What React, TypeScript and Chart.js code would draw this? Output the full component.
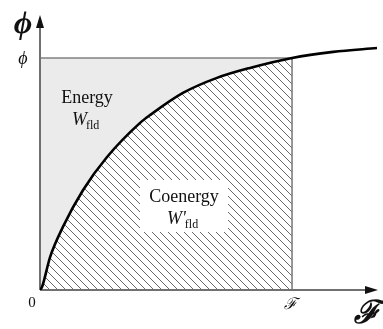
import React, { useEffect, useRef } from 'react';
import { Chart, registerables } from 'chart.js';

Chart.register(...registerables);

// Magnetization curve phi(F), normalised so the operating point is (1, 1)
const curveF = [0, 0.008, 0.04, 0.091, 0.171, 0.266, 0.397, 0.437, 0.567, 0.702, 0.833, 1.0, 1.163, 1.337];
const curvePhi = [0, 0.013, 0.142, 0.272, 0.431, 0.573, 0.72, 0.754, 0.849, 0.914, 0.957, 1.0, 1.026, 1.043];
const operatingF = 1;
const operatingPhi = 1;
const xMax = 1.341;
const yMax = 1.185;

const xTickLabel = 'ℱ';
const yTickLabel = 'ϕ';
const xAxisTitle = 'ℱ';
const yAxisTitle = 'ϕ';
const originLabel = '0';
const energyLabel = 'Energy';
const coenergyLabel = 'Coenergy';

function makeHatch(): CanvasPattern | string {
  const c = document.createElement('canvas');
  c.width = 8;
  c.height = 8;
  const g = c.getContext('2d');
  if (!g) return '#fff';
  g.fillStyle = '#ffffff';
  g.fillRect(0, 0, 8, 8);
  g.strokeStyle = '#6a6a6a';
  g.lineWidth = 1;
  g.beginPath();
  g.moveTo(-2, -2); g.lineTo(10, 10);
  g.moveTo(-2, 6); g.lineTo(2, 10);
  g.moveTo(6, -2); g.lineTo(10, 2);
  g.stroke();
  const p = g.createPattern(c, 'repeat');
  return p || '#fff';
}

export default function App() {
  const ref = useRef<HTMLCanvasElement | null>(null);

  useEffect(() => {
    if (!ref.current) return;
    const curve = curveF.map((x, i) => ({ x, y: curvePhi[i] }));
    const underCurve = curve.filter((p) => p.x <= operatingF);

    const serif = '"Liberation Serif", "DejaVu Serif", serif';

    const decor = {
      id: 'decor',
      beforeDatasetDraw(chart: any, args: any) {
        if (args.index !== 3) return;
        const ctx = chart.ctx;
        const xs = chart.scales.x;
        const ys = chart.scales.y;
        const x0 = xs.getPixelForValue(0);
        const y0 = ys.getPixelForValue(0);
        const xE = xs.getPixelForValue(xMax);
        const yE = ys.getPixelForValue(yMax);
        const xF = xs.getPixelForValue(operatingF);
        const yP = ys.getPixelForValue(operatingPhi);
        ctx.save();
        // white box behind Coenergy label
        ctx.fillStyle = '#ffffff';
        ctx.fillRect(140, 180, 88, 52);
        // vertical line at operating F
        ctx.strokeStyle = '#777';
        ctx.lineWidth = 1.5;
        ctx.beginPath();
        ctx.moveTo(xF, y0);
        ctx.lineTo(xF, yP);
        ctx.stroke();
        // axes
        ctx.strokeStyle = '#707070';
        ctx.lineWidth = 2;
        ctx.beginPath();
        ctx.moveTo(x0, y0);
        ctx.lineTo(x0, yE + 8);
        ctx.moveTo(x0, y0);
        ctx.lineTo(xE - 8, y0);
        ctx.stroke();
        ctx.fillStyle = '#111';
        ctx.beginPath();
        ctx.moveTo(x0, yE);
        ctx.lineTo(x0 - 4, yE + 13);
        ctx.lineTo(x0 + 4, yE + 13);
        ctx.closePath();
        ctx.fill();
        ctx.beginPath();
        ctx.moveTo(xE, y0);
        ctx.lineTo(xE - 13, y0 - 4);
        ctx.lineTo(xE - 13, y0 + 4);
        ctx.closePath();
        ctx.fill();
        ctx.restore();
      },
      afterDraw(chart: any) {
        const ctx = chart.ctx;
        const xs = chart.scales.x;
        const ys = chart.scales.y;
        const x0 = xs.getPixelForValue(0);
        const y0 = ys.getPixelForValue(0);
        const xF = xs.getPixelForValue(operatingF);
        const yP = ys.getPixelForValue(operatingPhi);
        const xE = xs.getPixelForValue(xMax);
        const yE = ys.getPixelForValue(yMax);
        ctx.save();
        ctx.fillStyle = '#111';
        ctx.textAlign = 'center';
        ctx.textBaseline = 'middle';
        // tick labels
        ctx.font = `italic 18px ${serif}`;
        ctx.fillText(yTickLabel, x0 - 17, yP + 1);
        ctx.font = `15px ${serif}`;
        ctx.fillText(originLabel, x0 - 8, y0 + 13);
        ctx.font = `italic 16px ${serif}`;
        ctx.fillText(xTickLabel, xF - 2, y0 + 15);
        // axis titles
        ctx.font = `bold italic 32px ${serif}`;
        ctx.fillText(yAxisTitle, x0 - 17, yE + 10);
        ctx.fillText(xAxisTitle, xE - 11, y0 + 25);
        // region labels
        ctx.font = `18px ${serif}`;
        ctx.fillText(energyLabel, 87, 98);
        ctx.fillText(coenergyLabel, 184, 197);
        ctx.textAlign = 'left';
        ctx.textBaseline = 'alphabetic';
        const drawW = (x: number, y: number, prime: boolean) => {
          ctx.font = `italic 18px ${serif}`;
          const w = prime ? "W'" : 'W';
          ctx.fillText(w, x, y);
          const ww = ctx.measureText(w).width;
          ctx.font = `12px ${serif}`;
          ctx.fillText('fld', x + ww - 1, y + 4);
        };
        drawW(72, 125, false);
        drawW(167, 224, true);
        ctx.restore();
      },
    };

    const chart = new Chart(ref.current, {
      type: 'line',
      data: {
        datasets: [
          {
            label: 'curve',
            data: curve,
            borderColor: '#000',
            borderWidth: 2.6,
            pointRadius: 0,
            fill: false,
            cubicInterpolationMode: 'monotone',
            order: 1,
          },
          {
            label: 'coenergy',
            data: underCurve,
            borderWidth: 0,
            borderColor: 'rgba(0,0,0,0)',
            backgroundColor: makeHatch() as any,
            pointRadius: 0,
            fill: 'origin',
            cubicInterpolationMode: 'monotone',
            order: 3,
          },
          {
            label: 'energy',
            data: [
              { x: 0, y: operatingPhi },
              { x: operatingF, y: operatingPhi },
            ],
            borderColor: '#808080',
            borderWidth: 1.5,
            backgroundColor: '#ebebeb',
            pointRadius: 0,
            fill: 'origin',
            order: 4,
          },
          {
            label: 'axes',
            data: [],
            pointRadius: 0,
            order: 2,
          },
        ],
      },
      options: {
        animation: false,
        responsive: true,
        maintainAspectRatio: false,
        layout: { padding: { left: 40, top: 15, right: 5, bottom: 39 } },
        plugins: { legend: { display: false }, tooltip: { enabled: false } },
        scales: {
          x: { type: 'linear', min: 0, max: xMax, display: false },
          y: { type: 'linear', min: 0, max: yMax, display: false },
        },
      },
      plugins: [decor],
    } as any);
    return () => chart.destroy();
  }, []);

  return (
    <div style={{ position: 'absolute', left: 0, top: 0, width: 383, height: 329, background: '#fff' }}>
      <canvas ref={ref} />
    </div>
  );
}
